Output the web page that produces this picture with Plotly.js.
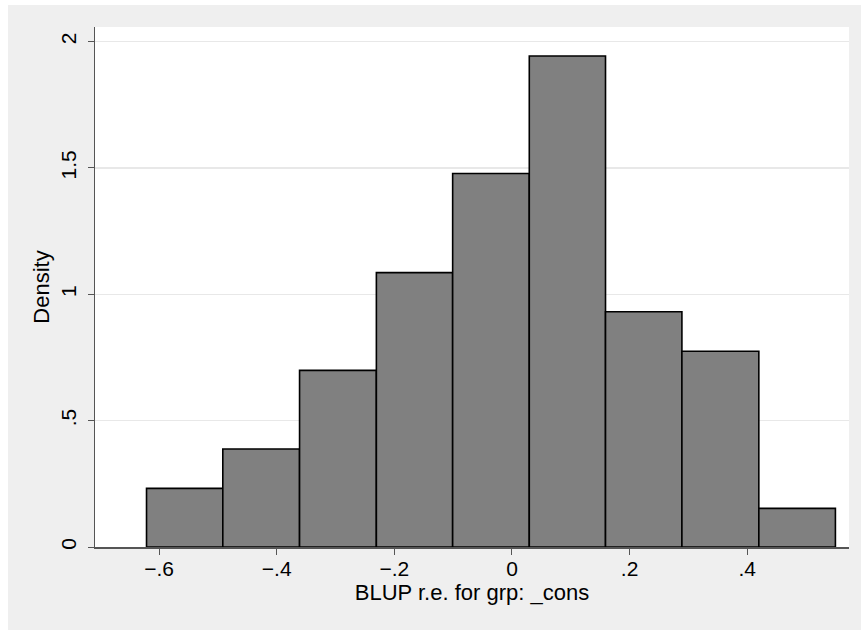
<!DOCTYPE html>
<html>
<head>
<meta charset="utf-8">
<script src="https://cdn.plot.ly/plotly-3.0.1.min.js"></script>
<style>
  html, body { margin: 0; padding: 0; background: #ffffff; }
  #chart { position: absolute; left: 8px; top: 5px; width: 853px; height: 625px; }
</style>
</head>
<body>
<div id="chart"></div>
<script>
// Bin edges of the BLUP random-effect histogram and the density of each bin
const binEdges = [-0.6214, -0.4917, -0.3612, -0.2306, -0.1009, 0.0294, 0.1590, 0.2889, 0.4197, 0.5499];
const densities = [0.232, 0.388, 0.699, 1.086, 1.478, 1.943, 0.931, 0.775, 0.153];

const xTickVals = [-0.6, -0.4, -0.2, 0, 0.2, 0.4];
const xTickText = ['\u2212.6', '\u2212.4', '\u2212.2', '0', '.2', '.4'];
const yTickVals = [0, 0.5, 1, 1.5, 2];
const yTickText = ['0', '.5', '1', '1.5', '2'];

const centers = densities.map((_, i) => (binEdges[i] + binEdges[i + 1]) / 2);
const widths = densities.map((_, i) => binEdges[i + 1] - binEdges[i]);

const family = 'Liberation Sans, Arial, sans-serif';
const tickFont = { family: family, size: 21, color: '#000000' };
const titleFont = { family: family, size: 22, color: '#000000' };

const trace = {
  type: 'bar',
  x: centers,
  y: densities,
  width: widths,
  marker: { color: '#808080', line: { color: '#000000', width: 1.6 } },
  hoverinfo: 'x+y'
};

const layout = {
  width: 853,
  height: 625,
  margin: { l: 87, r: 12, t: 22, b: 83 },
  paper_bgcolor: '#efefef',
  plot_bgcolor: '#ffffff',
  font: tickFont,
  showlegend: false,
  bargap: 0,
  xaxis: {
    range: [-0.709, 0.573],
    tickmode: 'array',
    tickvals: xTickVals,
    ticktext: xTickText,
    ticks: 'outside',
    ticklen: 6,
    tickwidth: 1,
    tickcolor: '#555555',
    ticklabelstandoff: -4,
    showgrid: false,
    zeroline: false,
    showline: true,
    linecolor: '#555555',
    linewidth: 1.5,
    tickfont: tickFont,
    title: { text: 'BLUP r.e. for grp: _cons', font: titleFont, standoff: 0 }
  },
  yaxis: {
    range: [0, 2.058],
    tickmode: 'array',
    tickvals: yTickVals,
    ticktext: yTickText,
    tickangle: -90,
    ticks: 'outside',
    ticklen: 6,
    tickwidth: 1,
    tickcolor: '#555555',
    ticklabelstandoff: 3,
    showgrid: true,
    gridcolor: '#e8e8e8',
    gridwidth: 1.5,
    zeroline: false,
    showline: true,
    linecolor: '#555555',
    linewidth: 1.5,
    tickfont: tickFont,
    title: { text: 'Density', font: titleFont, standoff: 1 }
  }
};

Plotly.newPlot('chart', [trace], layout, { displayModeBar: false, staticPlot: true });
</script>
</body>
</html>
